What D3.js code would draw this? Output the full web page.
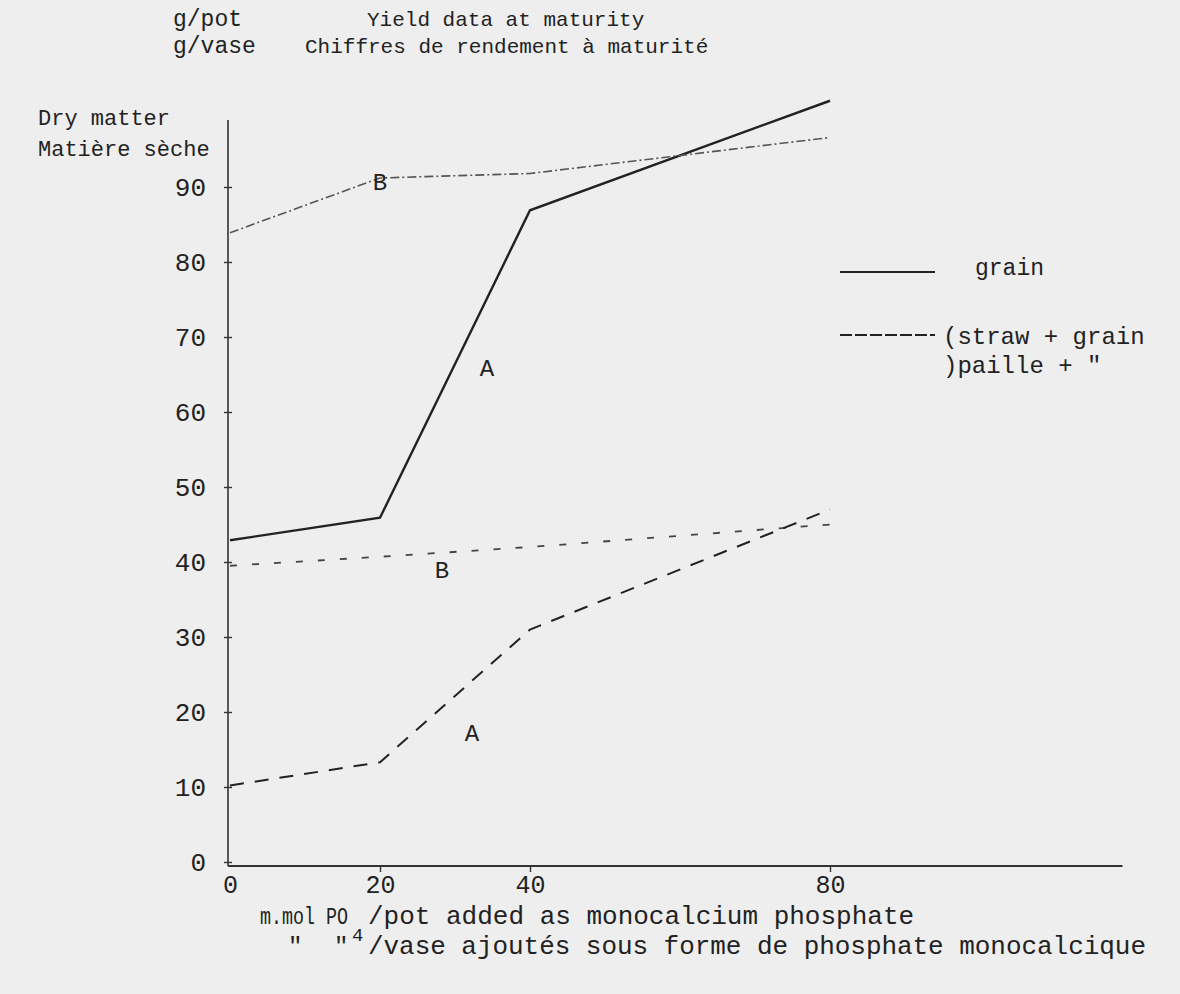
<!DOCTYPE html>
<html>
<head>
<meta charset="utf-8">
<script src="https://cdn.jsdelivr.net/npm/d3@7"></script>
<style>
  body { margin: 0; background: #eeeeee; }
  svg text { font-family: "Liberation Mono", "DejaVu Sans Mono", monospace; fill: #222; }
</style>
</head>
<body>
<div id="chart"></div>
<script>
// phosphate added (m.mol PO4 / pot)
var phosphate = [0, 20, 40, 80];

// dry matter, g/pot
var upperA = [42.9, 45.9, 86.9, 101.5];   // solid
var upperB = [83.9, 91.2, 91.8, 96.6];    // dash-dot
var lowerB = [39.5, 40.7, 42.0, 45.0];    // sparse dashes
var lowerA = [10.2, 13.3, 31.0, 47.0];    // dashed

var yTicks = [0, 10, 20, 30, 40, 50, 60, 70, 80, 90];
var xTicks = [0, 20, 40, 80];

var svgWidth = 1180;
var svgHeight = 994;

var svg = d3.select("#chart")
  .append("svg")
  .attr("width", svgWidth)
  .attr("height", svgHeight);

// scales: fitted so 0..80 lands where the hand drawn axes put it
var x = d3.scaleLinear().domain([0, 80]).range([230, 830]);
var y = d3.scaleLinear().domain([0, 80]).range([862, 262]);

// axis lines
svg.append("line")
  .attr("x1", 228).attr("x2", 228)
  .attr("y1", 120).attr("y2", y(0) + 4)
  .attr("stroke", "#333").attr("stroke-width", 1.6);

svg.append("line")
  .attr("x1", 228).attr("x2", x(119))
  .attr("y1", y(0) + 4).attr("y2", y(0) + 4)
  .attr("stroke", "#333").attr("stroke-width", 2);

// y axis: crosses + labels
var leftAxis = d3.axisLeft(y).tickValues(yTicks).tickSize(4).tickPadding(18);
var gy = svg.append("g")
  .attr("transform", "translate(228,0)")
  .call(leftAxis);
gy.select(".domain").remove();
gy.selectAll(".tick line").attr("x1", -4).attr("x2", 4).attr("stroke", "#333").attr("stroke-width", 1.4);
gy.selectAll(".tick text").style("font-size", "26px").attr("fill", "#333");

// x axis: small ticks down + labels
var bottomAxis = d3.axisBottom(x).tickValues(xTicks).tickSize(6).tickPadding(3);
var gx = svg.append("g")
  .attr("transform", `translate(0, ${y(0) + 4})`)
  .call(bottomAxis);
gx.select(".domain").remove();
gx.selectAll(".tick line").attr("stroke", "#333").attr("stroke-width", 1.4)
  .style("opacity", d => d === 0 ? 0 : 1);
gx.selectAll(".tick text").style("font-size", "25px").attr("fill", "#333");

// lines
var line = d3.line()
  .x((d, i) => x(phosphate[i]))
  .y(d => y(d));

svg.append("path").datum(upperA).attr("d", line)
  .attr("fill", "none").attr("stroke", "#222").attr("stroke-width", 2.4);

svg.append("path").datum(upperB).attr("d", line)
  .attr("fill", "none").attr("stroke", "#555").attr("stroke-width", 1.6)
  .attr("stroke-dasharray", "9,3,2,3");

svg.append("path").datum(lowerB).attr("d", line)
  .attr("fill", "none").attr("stroke", "#444").attr("stroke-width", 1.8)
  .attr("stroke-dasharray", "7,15");

svg.append("path").datum(lowerA).attr("d", line)
  .attr("fill", "none").attr("stroke", "#222").attr("stroke-width", 2)
  .attr("stroke-dasharray", "14,11");

// curve letters
var letters = [
  {t: "B", x: 380, y: 190},
  {t: "A", x: 487, y: 376},
  {t: "B", x: 442, y: 578},
  {t: "A", x: 472, y: 741}
];
svg.selectAll(".letter").data(letters).enter().append("text")
  .attr("class", "letter")
  .attr("x", d => d.x).attr("y", d => d.y)
  .attr("text-anchor", "middle")
  .style("font-size", "24px")
  .text(d => d.t);

// text helper
function txt(s, tx, ty, size, len) {
  var t = svg.append("text")
    .attr("x", tx).attr("y", ty)
    .style("font-size", size + "px")
    .text(s);
  if (len) t.attr("textLength", len);
  return t;
}

txt("g/pot", 173, 26, 23);
txt("g/vase", 173, 53, 23);
txt("Yield data at maturity", 367, 26, 21);
txt("Chiffres de rendement à maturité", 305, 53, 21);

txt("Dry matter", 38, 125, 22);
txt("Matière sèche", 38, 156, 22);

// legend
svg.append("line")
  .attr("x1", 840).attr("x2", 935).attr("y1", 272).attr("y2", 272)
  .attr("stroke", "#222").attr("stroke-width", 2.2);
svg.append("line")
  .attr("x1", 840).attr("x2", 935).attr("y1", 335).attr("y2", 335)
  .attr("stroke", "#222").attr("stroke-width", 2.2)
  .attr("stroke-dasharray", "12,3");

txt("grain", 975, 275, 23);
txt("(straw + grain", 943, 344, 24);
txt(")paille +  \"", 943, 373, 24);

// x axis title
txt("m.mol PO", 260, 924, 24, 88).attr("lengthAdjust", "spacingAndGlyphs");
txt("4", 352, 941, 19);
txt("/pot added as monocalcium phosphate", 368, 924, 26);
txt("\"", 288, 954, 24);
txt("\"", 334, 954, 24);
txt("/vase ajoutés sous forme de phosphate monocalcique", 368, 954, 26, 778);
</script>
</body>
</html>
